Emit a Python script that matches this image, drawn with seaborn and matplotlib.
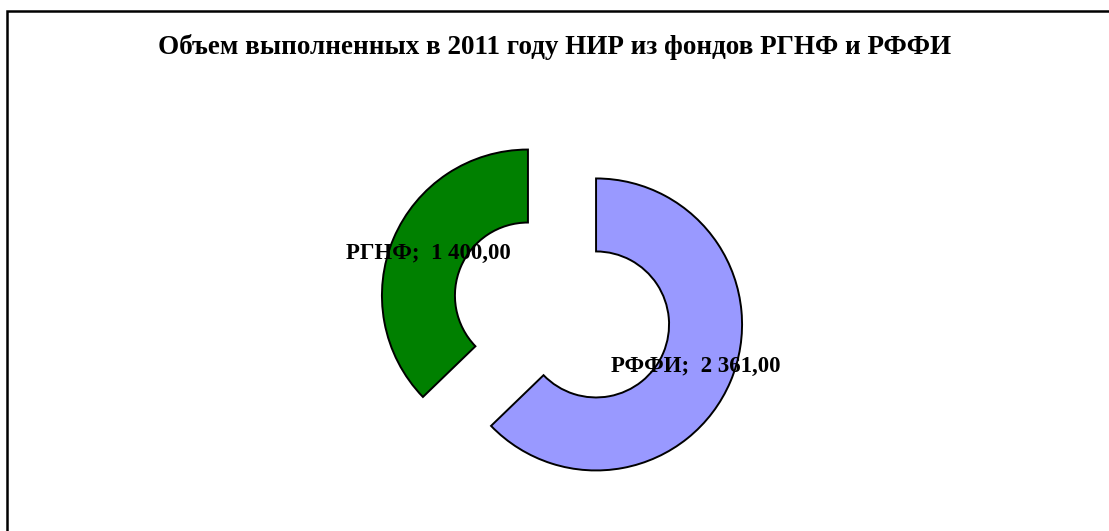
import matplotlib
matplotlib.use("Agg")
import matplotlib.pyplot as plt
import seaborn as sns
from matplotlib.patches import Rectangle

# data
funds = ['РФФИ', 'РГНФ']
amounts = [2361.00, 1400.00]
colors = ['#9999FF', '#008000']


def fmt_ru(v):
    s = f"{v:,.2f}"
    return s.replace(',', ' ').replace('.', ',')


labels = [f"{f};  {fmt_ru(v)}" for f, v in zip(funds, amounts)]

sns.set_style("white")
plt.rcParams['font.family'] = ['Liberation Serif', 'DejaVu Serif']
plt.rcParams['text.color'] = 'black'

W, H = 1109, 531
fig = plt.figure(figsize=(W / 100, H / 100), dpi=100)
ax = fig.add_axes([0, 0, 1, 1])

radius = 146
wedges, texts = ax.pie(amounts, labels=labels, colors=colors,
                       startangle=90, counterclock=False,
                       explode=[37, 37], radius=radius,
                       center=(562, H - 310), labeldistance=0.74,
                       wedgeprops=dict(width=radius * 0.5, edgecolor='black',
                                       linewidth=1.4),
                       frame=True)
ax.set_xlim(0, W)
ax.set_ylim(0, H)
ax.set_aspect('equal')
ax.axis('off')
for t in texts:
    t.set_ha('center')
    t.set_va('center')
    t.set_fontsize(16.5)
    t.set_fontweight('bold')
    t.set_color('black')

fig.text(0.5, 1 - 47 / H, 'Объем выполненных в 2011 году НИР из фондов РГНФ и РФФИ',
         ha='center', va='center', fontsize=19.5, fontweight='bold', color='black')

fig.patches.append(Rectangle((7 / W, -0.1), 1.2, 1 - 11 / H + 0.1,
                             transform=fig.transFigure, fill=False,
                             edgecolor='black', linewidth=1.8))

fig.savefig('out.png', dpi=100, facecolor='white')
